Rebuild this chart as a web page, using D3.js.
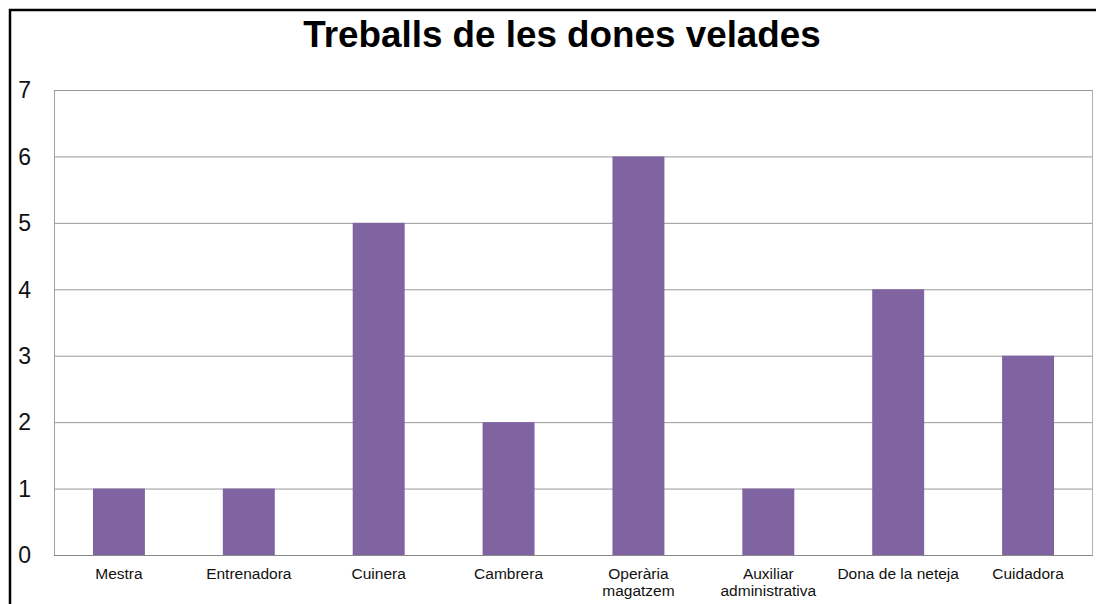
<!DOCTYPE html>
<html>
<head>
<meta charset="utf-8">
<script src="https://cdn.jsdelivr.net/npm/d3@7"></script>
<style>
  body { margin: 0; background: #fff; }
  svg { display: block; }
</style>
</head>
<body>
<svg id="chart" width="1096" height="604"></svg>
<script>
const title = "Treballs de les dones velades";
const categories = ["Mestra", "Entrenadora", "Cuinera", "Cambrera", "Operària\nmagatzem", "Auxiliar\nadministrativa", "Dona de la neteja", "Cuidadora"];
const values = [1, 1, 5, 2, 6, 1, 4, 3];
const yTicks = [0, 1, 2, 3, 4, 5, 6, 7];

const svg = d3.select("#chart");
const width = +svg.attr("width"), height = +svg.attr("height");

const plot = { left: 54, top: 90, right: 1093, bottom: 555 };

// outer chart frame (cut off at right/bottom like the screenshot)
svg.append("rect")
  .attr("x", 10).attr("y", 10)
  .attr("width", width + 20).attr("height", height + 20)
  .attr("fill", "#fff")
  .attr("stroke", "#000")
  .attr("stroke-width", 2.5);

svg.append("text")
  .attr("x", 562).attr("y", 47)
  .attr("text-anchor", "middle")
  .attr("font-family", "Liberation Sans, Arial, sans-serif")
  .attr("font-weight", "bold")
  .attr("font-size", "36.8px")
  .attr("fill", "#000")
  .text(title);

const x = d3.scaleBand()
  .domain(categories)
  .range([plot.left, plot.right])
  .paddingInner(0.6)
  .paddingOuter(0.3);

const y = d3.scaleLinear()
  .domain([0, 7])
  .range([plot.bottom, plot.top]);

// gridlines
svg.append("g")
  .selectAll("line")
  .data(yTicks.filter(d => d > 0))
  .enter().append("line")
    .attr("x1", plot.left).attr("x2", plot.right)
    .attr("y1", d => y(d) + 0.5).attr("y2", d => y(d) + 0.5)
    .attr("stroke", "#999")
    .attr("stroke-width", 1);

// plot frame sides
svg.append("line")
  .attr("x1", plot.left + 0.5).attr("x2", plot.left + 0.5)
  .attr("y1", plot.top).attr("y2", plot.bottom)
  .attr("stroke", "#a0a0a0");
svg.append("line")
  .attr("x1", plot.right - 0.5).attr("x2", plot.right - 0.5)
  .attr("y1", plot.top).attr("y2", plot.bottom)
  .attr("stroke", "#b0b0b0");

// bars
svg.append("g")
  .selectAll("rect")
  .data(values)
  .enter().append("rect")
    .attr("x", (d, i) => x(categories[i]))
    .attr("width", x.bandwidth())
    .attr("y", d => y(d))
    .attr("height", d => y(0) - y(d))
    .attr("fill", "#8064a2");

// baseline
svg.append("line")
  .attr("x1", plot.left).attr("x2", plot.right)
  .attr("y1", plot.bottom + 0.5).attr("y2", plot.bottom + 0.5)
  .attr("stroke", "#888");

// y labels
svg.append("g")
  .selectAll("text")
  .data(yTicks)
  .enter().append("text")
    .attr("x", 31)
    .attr("y", d => y(d))
    .attr("dy", "0.36em")
    .attr("text-anchor", "end")
    .attr("font-family", "Liberation Sans, Arial, sans-serif")
    .attr("font-size", "23px")
    .attr("fill", "#111")
    .text(d => d);

// x labels
const xl = svg.append("g")
  .selectAll("text")
  .data(categories)
  .enter().append("text")
    .attr("x", d => x(d) + x.bandwidth() / 2)
    .attr("y", 579)
    .attr("text-anchor", "middle")
    .attr("font-family", "Liberation Sans, Arial, sans-serif")
    .attr("font-size", "15.5px")
    .attr("fill", "#111");

xl.selectAll("tspan")
  .data(d => d.split("\n").map(t => ({ t, cx: x(d) + x.bandwidth() / 2 })))
  .enter().append("tspan")
    .attr("x", d => d.cx)
    .attr("dy", (d, i) => i === 0 ? 0 : 17)
    .text(d => d.t);
</script>
</body>
</html>
